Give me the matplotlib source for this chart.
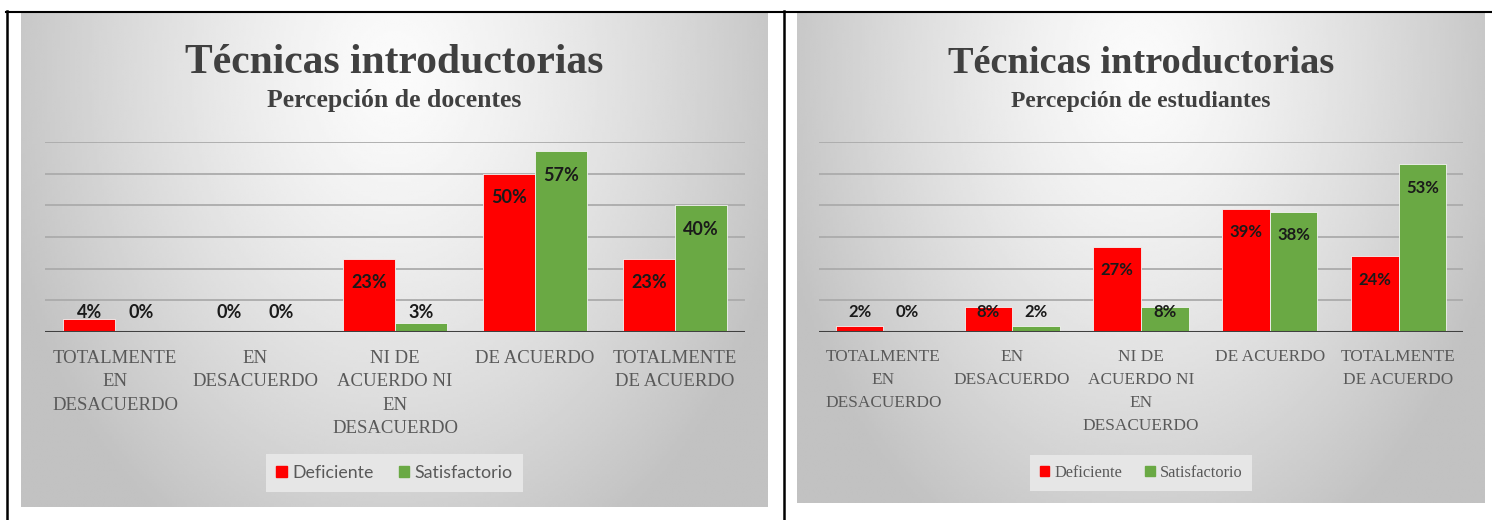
import numpy as np
import matplotlib
matplotlib.use('Agg')
import matplotlib.pyplot as plt
from matplotlib.patches import Patch

W, H = 1492, 520

categorias = ['TOTALMENTE\nEN\nDESACUERDO', 'EN\nDESACUERDO',
              'NI DE\nACUERDO NI\nEN\nDESACUERDO', 'DE ACUERDO',
              'TOTALMENTE\nDE ACUERDO']
series = ['Deficiente', 'Satisfactorio']

# percepcion de docentes
docentes_def = [4, 0, 23, 50, 23]
docentes_sat = [0, 0, 3, 57, 40]

# percepcion de estudiantes
estudiantes_def = [2, 8, 27, 39, 24]
estudiantes_sat = [0, 2, 8, 38, 53]

titulo = 'Técnicas introductorias'
subtitulos = ['Percepción de docentes', 'Percepción de estudiantes']

ROJO = '#ff0000'
VERDE = '#6aa944'
SERIF = ['Liberation Serif', 'DejaVu Serif']
SANS = ['Lato', 'Open Sans', 'DejaVu Sans']


def px_axes(fig, x0, y0, x1, y1, **kw):
    return fig.add_axes([x0 / W, 1 - y1 / H, (x1 - x0) / W, (y1 - y0) / H], **kw)


def fondo(fig, x0, y0, x1, y1):
    ax = px_axes(fig, x0, y0, x1, y1)
    u = np.linspace(0, 1, 300)
    v = np.linspace(0, 1, 200)
    uu, vv = np.meshgrid(u, v)
    d = np.sqrt(((uu - 0.5) / 0.5) ** 2 + ((vv - 0.12) / 1.0) ** 2)
    val = 0.985 - 0.2 * np.clip(d, 0, 1.1) ** 1.3
    ax.imshow(val, cmap='gray', vmin=0, vmax=1, extent=[0, 1, 0, 1],
              aspect='auto', interpolation='bilinear')
    ax.axis('off')
    return ax


def panel(fig, box, plot_box, defi, sat, subtitulo, esc, leg_font, lsp):
    x0, y0, x1, y1 = box
    fondo(fig, x0, y0, x1, y1)
    cx = (x0 + x1) / 2

    fig.text(cx / W, 1 - 73 / H, titulo, ha='center', va='baseline',
             fontsize=30 * esc, fontweight='bold', color='#404040', family=SERIF)
    fig.text(cx / W, 1 - 107 / H, subtitulo, ha='center', va='baseline',
             fontsize=18.5 * esc, fontweight='bold', color='#404040', family=SERIF)

    ax = px_axes(fig, *plot_box)
    ax.patch.set_alpha(0)
    x = np.arange(len(categorias))
    bw = 0.37
    for g in range(10, 70, 10):
        ax.axhline(g, color='#ababab', lw=1.3, zorder=0)
    b1 = ax.bar(x - bw / 2, defi, bw, color=ROJO, edgecolor='#f4f4f4', lw=0.6, zorder=2)
    b2 = ax.bar(x + bw / 2, sat, bw, color=VERDE, edgecolor='#f4f4f4', lw=0.6, zorder=2)
    ax.axhline(0, color='#404040', lw=2.2, zorder=3)

    for bars, vals in ((b1, defi), (b2, sat)):
        for r, v in zip(bars, vals):
            ax.text(r.get_x() + r.get_width() / 2, max(v - 7.5, 6.3), '%d%%' % v,
                    ha='center', va='center', fontsize=13 * esc, fontweight='bold',
                    color='#1a1a1a', family=SANS, zorder=4)

    ax.set_xlim(-0.5, len(categorias) - 0.5)
    ax.set_ylim(0, 60)
    ax.set_yticks([])
    ax.set_xticks(x)
    ax.set_xticklabels(categorias, fontsize=13.5 * esc, color='#595959',
                       family=SERIF, linespacing=lsp)
    ax.tick_params(axis='x', length=0, pad=13 * esc)
    for s in ax.spines.values():
        s.set_visible(False)

    handles = [Patch(color=ROJO), Patch(color=VERDE)]
    leg = ax.legend(handles, series, loc='center',
                    bbox_to_anchor=(cx / W, 1 - 473 / H), bbox_transform=fig.transFigure,
                    ncol=2, frameon=True, fancybox=False, facecolor='#e6e6e6',
                    edgecolor='none', framealpha=1, handlelength=0.6, handleheight=0.6,
                    handletextpad=0.3, columnspacing=1.4, borderpad=0.6,
                    prop={'family': leg_font, 'size': 12.8 * esc})
    for t in leg.get_texts():
        t.set_color('#595959')


fig = plt.figure(figsize=(W / 100, H / 100), dpi=100)
fig.patch.set_facecolor('white')

panel(fig, (21, 12, 768, 507), (45, 142, 745, 332),
      docentes_def, docentes_sat, subtitulos[0], 1.0, SANS, 1.48)
panel(fig, (797, 12, 1485, 503), (819, 142, 1463, 332),
      estudiantes_def, estudiantes_sat, subtitulos[1], 0.92, SERIF, 1.6)

# bordes de la tabla
lines = fig.add_axes([0, 0, 1, 1])
lines.set_xlim(0, W)
lines.set_ylim(H, 0)
lines.axis('off')
lines.plot([6, W], [11.5, 11.5], color='black', lw=1.5)
lines.plot([7, 7], [11, H], color='black', lw=1.8)
lines.plot([783.5, 783.5], [11, H], color='black', lw=1.8)

fig.savefig('out.png', dpi=100)
